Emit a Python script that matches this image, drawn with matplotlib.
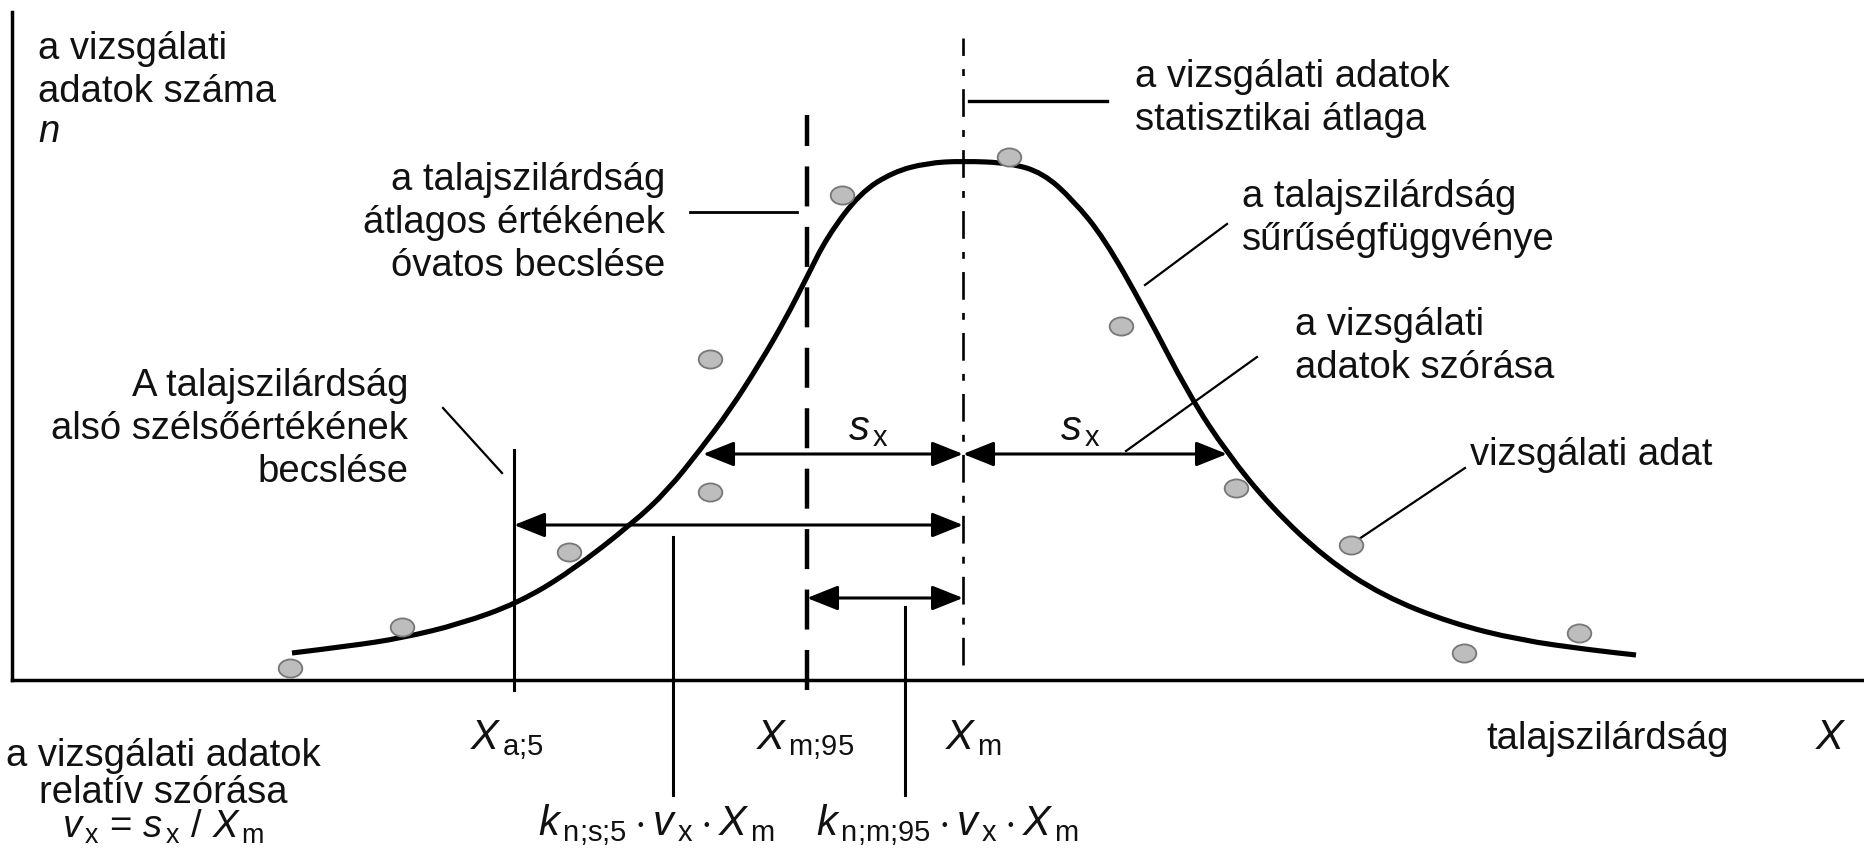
import numpy as np
import matplotlib
matplotlib.use("Agg")
import matplotlib.pyplot as plt
from matplotlib.path import Path
from matplotlib.patches import PathPatch
from matplotlib.transforms import Affine2D

plt.rcParams['font.family'] = ['Liberation Sans', 'DejaVu Sans']
plt.rcParams['mathtext.fontset'] = 'custom'
plt.rcParams['mathtext.rm'] = 'Liberation Sans'
plt.rcParams['mathtext.it'] = 'Liberation Sans:italic'

# density curve of soil strength (schematic units)
curve_x = [28.0, 33.8, 39.0, 44.8, 50.6, 55.8, 62.1, 65.6, 68.8, 71.8, 74.8, 77.3,
           79.5, 81.5, 84.8, 88.1, 91.5, 95.1, 99.8, 103.1, 106.1, 109.2, 113.3,
           117.7, 121.5, 125.9, 131.3, 137.1, 143.9, 150.7, 157.9, 162.4]
curve_y = [2.7, 3.4, 4.2, 5.6, 7.7, 10.8, 15.7, 19.0, 23.0, 27.0, 31.7, 36.0,
           40.3, 44.3, 48.7, 50.8, 51.7, 51.9, 51.7, 50.7, 48.0, 44.2, 37.0,
           28.5, 22.7, 17.3, 12.2, 8.4, 5.7, 4.0, 3.0, 2.5]

# individual test results
point_x = [27.8, 39.0, 55.7, 69.8, 69.8, 83.0, 99.7, 110.9, 122.4, 133.9, 145.2, 156.7]
point_y = [1.2, 5.3, 12.8, 32.1, 18.8, 48.5, 52.3, 35.4, 19.2, 13.5, 2.7, 4.7]

# characteristic values on the strength axis
x_a5 = 50.2    # lower characteristic value
x_m95 = 79.5   # cautious estimate of the mean
x_m = 95.1     # statistical mean
x_sx_left = 69.1
x_sx_right = 121.5

fig = plt.figure(figsize=(18.64, 8.52), dpi=100)
ax = fig.add_axes([12 / 1864, 172 / 852, 1852 / 1864, 668 / 852])
ax.set_xlim(0, 185.2)
ax.set_ylim(0, 66.8)
ax.set_xticks([])
ax.set_yticks([])
for side in ('top', 'right'):
    ax.spines[side].set_visible(False)
for side in ('left', 'bottom'):
    ax.spines[side].set_linewidth(2.5)

FS = 27.5
TXT = dict(fontsize=FS, color='#111111', va='baseline', linespacing=1.25)
MATH = dict(TXT, fontsize=30)

# reference lines
ax.plot([x_a5, x_a5], [-1.0, 23.0], color='black', lw=2.2, clip_on=False)
ax.plot([x_m95, x_m95], [-1.0, 56.5], color='black', lw=3.2,
        dashes=(9.0, 4.6), clip_on=False)
ax.plot([x_m, x_m], [1.5, 64.2], color='black', lw=1.9,
        dashes=(10.5, 5.0, 2.6, 5.0), clip_on=False)

# density curve drawn as a smooth quadratic spline through the read points
pts = np.column_stack([curve_x, curve_y])
verts = [pts[0]]
codes = [Path.MOVETO]
for i in range(1, len(pts) - 1):
    verts += [pts[i], (pts[i] + pts[i + 1]) / 2]
    codes += [Path.CURVE3, Path.CURVE3]
verts.append(pts[-1])
codes.append(Path.LINETO)
ax.add_patch(PathPatch(Path(verts, codes), fill=False, lw=3.7,
                       edgecolor='black', capstyle='butt', zorder=3))

ellipse = Path.unit_circle().transformed(Affine2D().scale(1.3, 1.0))
ax.plot(point_x, point_y, ls='none', marker=ellipse, markersize=17,
        markerfacecolor='#bdbdbd', markeredgecolor='#777777',
        markeredgewidth=1.3, zorder=4)


def dim_arrow(x0, x1, y):
    ax.annotate('', xy=(x1, y), xytext=(x0, y),
                arrowprops=dict(arrowstyle='<|-|>,head_length=0.95,head_width=0.38',
                                mutation_scale=20, lw=2.2, color='black',
                                shrinkA=0, shrinkB=0), zorder=5)


dim_arrow(x_sx_left, x_m, 22.6)
dim_arrow(x_m, x_sx_right, 22.6)
dim_arrow(x_a5, x_m, 15.5)
dim_arrow(x_m95, x_m, 8.2)

# leader lines
leaders = [
    ((95.7, 109.5), (57.9, 57.9), 2.4),
    ((67.8, 78.5), (46.8, 46.8), 2.0),
    ((113.3, 121.5), (39.5, 45.6), 1.6),
    ((111.4, 124.5), (22.9, 32.3), 1.6),
    ((134.7, 145.3), (14.1, 21.2), 1.6),
    ((43.1, 49.0), (27.2, 20.7), 1.6),
    ((66.1, 66.1), (14.3, -11.5), 2.2),
    ((89.3, 89.3), (7.3, -11.5), 2.2),
]
for lx, ly, lw in leaders:
    ax.plot(lx, ly, color='black', lw=lw, clip_on=False)

# annotations inside the plot (y = baseline of the last line)
ax.text(2.6, 57.8, 'a vizsgálati\nadatok száma', ha='left', **TXT)
ax.text(2.6, 53.8, '$n$', ha='left', **TXT)
ax.text(65.3, 40.4, 'a talajszilárdság\nátlagos értékének\nóvatos becslése',
        ha='right', **TXT)
ax.text(112.3, 55.0, 'a vizsgálati adatok\nstatisztikai átlaga', ha='left', **TXT)
ax.text(123.0, 43.0, 'a talajszilárdság\nsűrűségfüggvénye', ha='left', **TXT)
ax.text(128.3, 30.2, 'a vizsgálati\nadatok szórása', ha='left', **TXT)
ax.text(145.8, 21.5, 'vizsgálati adat', ha='left', **TXT)
ax.text(39.6, 19.8, 'A talajszilárdság\nalsó szélsőértékének\nbecslése',
        ha='right', **TXT)
ax.text(83.6, 24.0, r'$s_{\,\mathrm{x}}$', ha='left', **MATH)
ax.text(104.8, 24.0, r'$s_{\,\mathrm{x}}$', ha='left', **MATH)

# labels below the strength axis
ax.text(45.8, -6.9, r'$X_{\,\text{a;5}}$', ha='left', **MATH)
ax.text(74.4, -6.9, r'$X_{\,\text{m;95}}$', ha='left', **MATH)
ax.text(93.3, -6.9, r'$X_{\,\mathrm{m}}$', ha='left', **MATH)
ax.text(147.4, -6.9, 'talajszilárdság', ha='left', **TXT)
ax.text(180.3, -6.9, '$X$', ha='left', **MATH)
ax.text(52.6, -15.5,
        r'$k_{\,\text{n;s;5}}\cdot v_{\,\mathrm{x}}\cdot X_{\,\mathrm{m}}$',
        ha='left', **MATH)
ax.text(80.4, -15.5,
        r'$k_{\,\text{n;m;95}}\cdot v_{\,\mathrm{x}}\cdot X_{\,\mathrm{m}}$',
        ha='left', **MATH)
ax.text(15.1, -12.3, 'a vizsgálati adatok\nrelatív szórása', ha='center',
        **dict(TXT, linespacing=1.05))
ax.text(15.1, -15.8, r'$v_{\,\mathrm{x}}$ = $s_{\,\mathrm{x}}$ / $X_{\,\mathrm{m}}$',
        ha='center', **TXT)

fig.savefig('out.png', dpi=100, facecolor='white')
